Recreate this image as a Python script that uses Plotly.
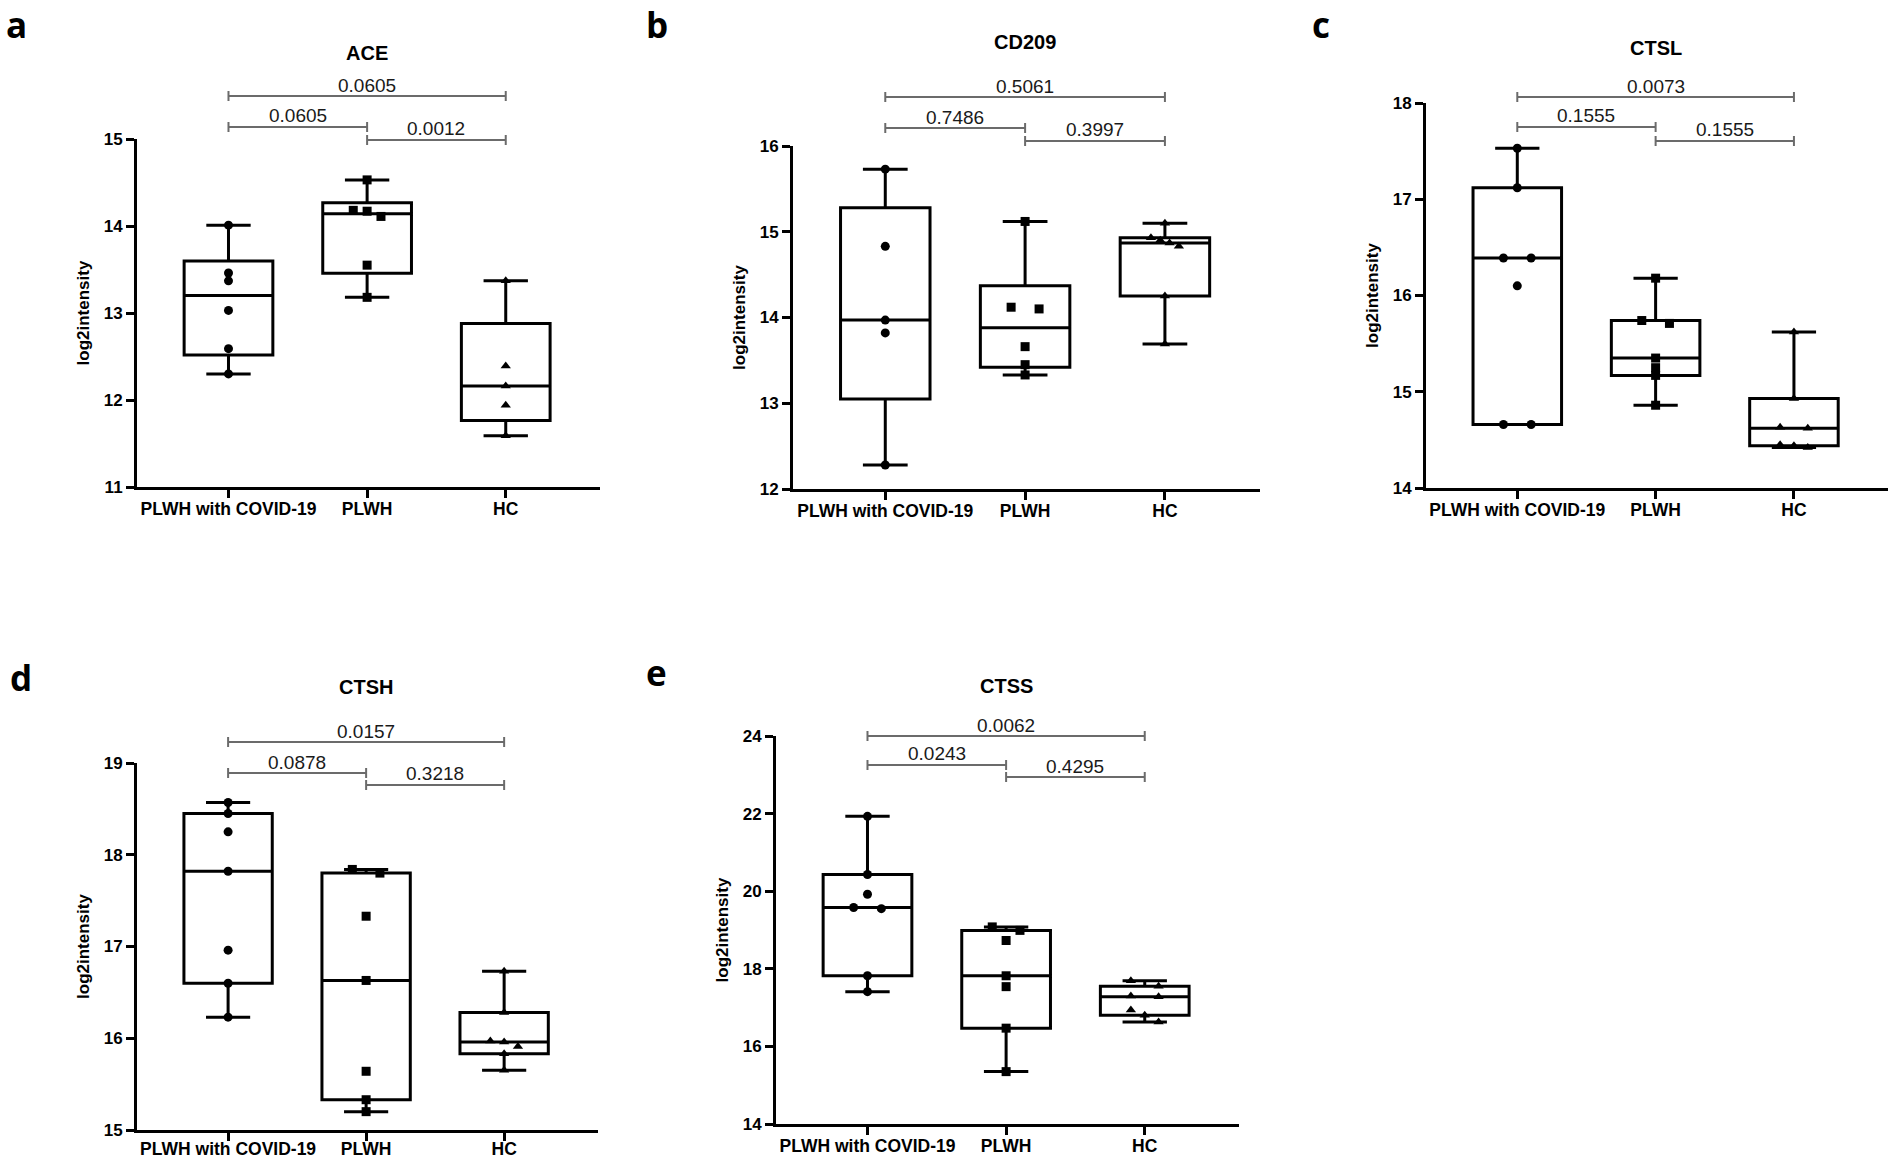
import numpy as np
import plotly.graph_objects as go

W, H = 1890, 1163

CATEGORIES = ["PLWH with COVID-19", "PLWH", "HC"]
GENES = ["ACE", "CD209", "CTSL", "CTSH", "CTSS"]
TAGS = ["a", "b", "c", "d", "e"]

# log2 intensity per sample
ace_covid = [14.01, 13.46, 13.37, 13.03, 12.59, 12.30]
ace_plwh = [14.53, 14.18, 14.17, 14.11, 13.55, 13.18]
ace_hc = [13.37, 12.39, 12.16, 11.94, 11.59]

cd209_covid = [15.73, 14.83, 13.97, 13.82, 12.28]
cd209_plwh = [15.12, 14.12, 14.10, 13.66, 13.45, 13.33]
cd209_hc = [15.10, 14.93, 14.90, 14.87, 14.83, 14.25, 13.69]

ctsl_covid = [17.53, 17.12, 16.39, 16.39, 16.10, 14.66, 14.66]
ctsl_plwh = [16.18, 15.74, 15.71, 15.35, 15.25, 15.17, 14.86]
ctsl_hc = [15.62, 14.93, 14.63, 14.62, 14.45, 14.44, 14.42]

ctsh_covid = [18.57, 18.45, 18.25, 17.82, 16.96, 16.60, 16.23]
ctsh_plwh = [17.84, 17.80, 17.33, 16.63, 15.64, 15.33, 15.20]
ctsh_hc = [16.73, 16.28, 15.97, 15.96, 15.91, 15.83, 15.65]

ctss_covid = [21.93, 20.43, 19.92, 19.58, 19.55, 17.82, 17.41]
ctss_plwh = [19.08, 18.99, 18.73, 17.82, 17.54, 16.47, 15.35]
ctss_hc = [17.69, 17.55, 17.30, 17.28, 16.94, 16.80, 16.63]

# p values: (COVID vs HC), (COVID vs PLWH), (PLWH vs HC)
ace_p = ["0.0605", "0.0605", "0.0012"]
cd209_p = ["0.5061", "0.7486", "0.3997"]
ctsl_p = ["0.0073", "0.1555", "0.1555"]
ctsh_p = ["0.0157", "0.0878", "0.3218"]
ctss_p = ["0.0062", "0.0243", "0.4295"]

# y axis ranges and tick step
y_ranges = [[11, 15], [12, 16], [14, 18], [15, 19], [14, 24]]
y_dticks = [1, 1, 1, 1, 2]

groups = [
    [ace_covid, ace_plwh, ace_hc],
    [cd209_covid, cd209_plwh, cd209_hc],
    [ctsl_covid, ctsl_plwh, ctsl_hc],
    [ctsh_covid, ctsh_plwh, ctsh_hc],
    [ctss_covid, ctss_plwh, ctss_hc],
]
pvals = [ace_p, cd209_p, ctsl_p, ctsh_p, ctss_p]

# layout in pixels: plot box (x0, x1, ytop, ybottom), bracket rows, title row,
# tag spot, x label standoff
LAYOUT = [
    dict(box=(137, 600, 139, 487), br=(96, 127, 140), ty=53, tag=(16, 25), lab=-4),
    dict(box=(793, 1260, 146, 489), br=(97, 128, 141), ty=42, tag=(657, 25), lab=-4),
    dict(box=(1426, 1888, 103, 488), br=(97, 127, 141), ty=48, tag=(1321, 25), lab=-4),
    dict(box=(137, 598, 763, 1130), br=(742, 773, 785), ty=687, tag=(21, 677), lab=-7),
    dict(box=(776, 1239, 736, 1124), br=(736, 765, 777), ty=686, tag=(656, 672), lab=-4),
]

SYMBOLS = ["circle", "square", "triangle-up"]
FONT = "Liberation Sans"
BR_COLOR = "#6b6b6b"


def spread(vals, tol):
    # small horizontal offsets for points that sit on top of each other
    order = np.argsort(vals)[::-1]
    v = np.asarray(vals)[order]
    offs = np.zeros(len(v))
    i = 0
    while i < len(v):
        j = i
        while j + 1 < len(v) and v[j] - v[j + 1] < tol:
            j += 1
        k = j - i + 1
        if k > 1:
            offs[i:j + 1] = np.linspace(-0.1, 0.1, k)
        i = j + 1
    out = np.zeros(len(v))
    out[order] = offs
    return out


fig = go.Figure()
annotations = []
shapes = []

for k, lay in enumerate(LAYOUT):
    sx = "" if k == 0 else str(k + 1)
    xa, ya = "x" + sx, "y" + sx
    x0, x1, yt, yb = lay["box"]
    yr = y_ranges[k]

    for g, vals in enumerate(groups[k]):
        q1, med, q3 = np.percentile(vals, [25, 50, 75], method="weibull")
        fig.add_trace(go.Box(
            x=[g], q1=[q1], median=[med], q3=[q3],
            lowerfence=[min(vals)], upperfence=[max(vals)],
            orientation="v", width=0.64, whiskerwidth=0.5,
            line=dict(color="black", width=3), fillcolor="rgba(255,255,255,0)",
            boxpoints=False, showlegend=False, hoverinfo="skip",
            xaxis=xa, yaxis=ya))
        offs = spread(vals, 0.02 * (yr[1] - yr[0]))
        fig.add_trace(go.Scatter(
            x=g + offs, y=vals, mode="markers", showlegend=False,
            marker=dict(color="black", size=9, symbol=SYMBOLS[g]),
            cliponaxis=False, xaxis=xa, yaxis=ya))

    fig.update_layout(**{
        "xaxis" + sx: dict(
            domain=[x0 / W, x1 / W], range=[-0.66, 2.68], anchor=ya,
            tickvals=[0, 1, 2], ticktext=CATEGORIES, ticklabelstandoff=lay["lab"],
            tickfont=dict(family=FONT, size=17.5, color="black", weight="bold"),
            showline=True, linewidth=3, linecolor="black",
            ticks="outside", ticklen=8, tickwidth=3, tickcolor="black",
            showgrid=False, zeroline=False, automargin=False),
        "yaxis" + sx: dict(
            domain=[1 - yb / H, 1 - yt / H], range=yr, dtick=y_dticks[k],
            anchor=xa, tick0=yr[0],
            tickfont=dict(family=FONT, size=17, color="black", weight="bold"),
            title=dict(text="log2intensity", standoff=10,
                       font=dict(family=FONT, size=17, color="black", weight="bold")),
            showline=True, linewidth=3, linecolor="black",
            ticks="outside", ticklen=8, tickwidth=3, tickcolor="black",
            showgrid=False, zeroline=False, automargin=False),
    })

    # gene title and panel letter
    annotations.append(dict(
        x=1, y=1 - lay["ty"] / H, xref=xa, yref="paper", text=GENES[k],
        showarrow=False, yanchor="middle",
        font=dict(family=FONT, size=20, color="black", weight="bold")))
    annotations.append(dict(
        x=lay["tag"][0] / W, y=1 - lay["tag"][1] / H, xref="paper", yref="paper",
        text=TAGS[k], showarrow=False, xanchor="center", yanchor="middle",
        font=dict(family="Open Sans", size=35, color="black", weight="bold")))

    # significance brackets
    pairs = [(0, 2), (0, 1), (1, 2)]
    for (a, b), lvl, txt in zip(pairs, lay["br"], pvals[k]):
        yy = 1 - lvl / H
        tick = 5 / H
        shapes.append(dict(type="line", xref=xa, yref="paper", x0=a, x1=b, y0=yy, y1=yy,
                           line=dict(color=BR_COLOR, width=2)))
        for xe in (a, b):
            shapes.append(dict(type="line", xref=xa, yref="paper", x0=xe, x1=xe,
                               y0=yy - tick, y1=yy + tick,
                               line=dict(color=BR_COLOR, width=2)))
        annotations.append(dict(
            x=(a + b) / 2, y=yy, xref=xa, yref="paper", text=txt, showarrow=False,
            yanchor="middle", yshift=11,
            font=dict(family=FONT, size=19, color="#1a1a1a")))

fig.update_layout(
    width=W, height=H, margin=dict(l=0, r=0, t=0, b=0),
    plot_bgcolor="white", paper_bgcolor="white",
    annotations=annotations, shapes=shapes, showlegend=False)

# the page body has a default 8px margin; drop it so the figure fills the window
fig.write_html("out.html", config={"displayModeBar": False},
               post_script="document.body.style.margin='0';")
